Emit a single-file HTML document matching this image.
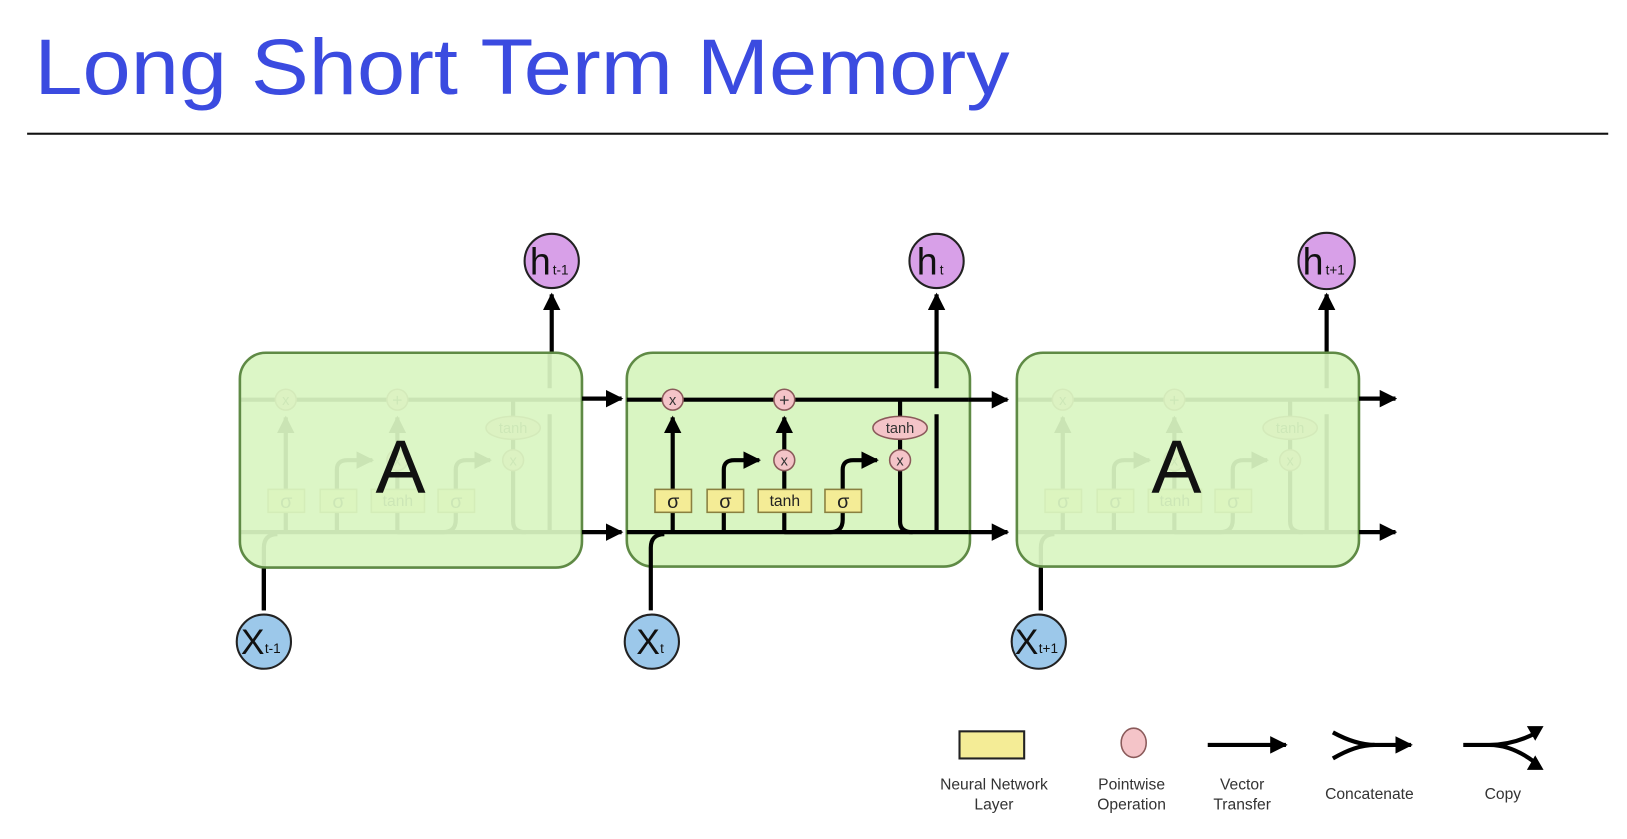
<!DOCTYPE html>
<html><head><meta charset="utf-8"><style>html,body{margin:0;padding:0;background:#fff;width:1627px;height:839px;overflow:hidden}</style></head>
<body>
<svg width="1627" height="839" viewBox="0 0 1560 804" xmlns="http://www.w3.org/2000/svg" font-family="Liberation Sans, DejaVu Sans, sans-serif">
<defs>
<marker id="ar" viewBox="0 0 10 10" refX="9" refY="5" markerWidth="4.2" markerHeight="4.2" orient="auto" markerUnits="strokeWidth"><path d="M0,0 L10,5 L0,10 z" fill="#000"/></marker>
<g id="inner">
 <path d="M0,383 H328" stroke="#000" stroke-width="4" fill="none"/>
 <path d="M0,510 H328" stroke="#000" stroke-width="4" fill="none"/>
 <path d="M23,585 V525 Q23,512 36,512" stroke="#000" stroke-width="4" fill="none"/>
 <path d="M44,510 V400" stroke="#000" stroke-width="4" fill="none" marker-end="url(#ar)"/>
 <path d="M93,510 V450 Q93,441 103,441 H127" stroke="#000" stroke-width="4" fill="none" marker-end="url(#ar)"/>
 <path d="M151,510 V400" stroke="#000" stroke-width="4" fill="none" marker-end="url(#ar)"/>
 <path d="M151,510 H195 Q207,510 207,498 V450 Q207,441 217,441 H240" stroke="#000" stroke-width="4" fill="none" marker-end="url(#ar)"/>
 <path d="M262,383 V500 Q262,510 274,510" stroke="#000" stroke-width="4" fill="none"/>
 <path d="M297,510 V397 M297,372 V338" stroke="#000" stroke-width="4" fill="none"/>
 <rect x="27" y="469" width="35" height="22" fill="#f4ec96" stroke="#8a8040" stroke-width="1.5"/>
 <rect x="77" y="469" width="35" height="22" fill="#f4ec96" stroke="#8a8040" stroke-width="1.5"/>
 <rect x="126" y="469" width="51" height="22" fill="#f4ec96" stroke="#8a8040" stroke-width="1.5"/>
 <rect x="190" y="469" width="35" height="22" fill="#f4ec96" stroke="#8a8040" stroke-width="1.5"/>
 <text x="44.5" y="487" font-size="19" text-anchor="middle" fill="#222">σ</text>
 <text x="94.5" y="487" font-size="19" text-anchor="middle" fill="#222">σ</text>
 <text x="151.5" y="485" font-size="15" text-anchor="middle" fill="#222">tanh</text>
 <text x="207.5" y="487" font-size="19" text-anchor="middle" fill="#222">σ</text>
 <g fill="#f4c4c8" stroke="#8a5a5a" stroke-width="1.5">
  <circle cx="44" cy="383" r="10"/><circle cx="151" cy="383" r="10"/>
  <circle cx="151" cy="441" r="10"/><circle cx="262" cy="441" r="10"/>
  <ellipse cx="262" cy="410" rx="26" ry="11"/>
 </g>
 <g font-size="14" text-anchor="middle" fill="#333">
  <text x="44" y="388">x</text><text x="151" y="389" font-size="17">+</text>
  <text x="151" y="446">x</text><text x="262" y="446">x</text>
  <text x="262" y="415" font-size="14">tanh</text>
 </g>
</g>
</defs>
<text x="33" y="90" font-size="76" fill="#3b4be0" textLength="935" lengthAdjust="spacingAndGlyphs">Long Short Term Memory</text>
<rect x="26" y="127" width="1516" height="2" fill="#111"/>

<!-- left cell -->
<path d="M529,338 V282" stroke="#000" stroke-width="4" marker-end="url(#ar)"/>
<g transform="translate(230,0)"><use href="#inner"/></g>
<rect x="230" y="338" width="328" height="206" rx="25" fill="#d9f5c2" fill-opacity="0.93" stroke="#5f8a45" stroke-width="2.5"/>
<text x="384" y="472" font-size="72" text-anchor="middle" fill="#111">A</text>
<path d="M558,382 H596" stroke="#000" stroke-width="4" marker-end="url(#ar)"/>
<path d="M558,510 H596" stroke="#000" stroke-width="4" marker-end="url(#ar)"/>
<path d="M253,585 V545" stroke="#000" stroke-width="4"/>

<!-- middle cell -->
<rect x="601" y="338" width="329" height="205" rx="25" fill="#d9f5c2" stroke="#5f8a45" stroke-width="2.5"/>
<g transform="translate(601,0)"><use href="#inner"/></g>
<path d="M898,340 V282" stroke="#000" stroke-width="4" marker-end="url(#ar)"/>
<path d="M929,383 H966" stroke="#000" stroke-width="4" marker-end="url(#ar)"/>
<path d="M929,510 H966" stroke="#000" stroke-width="4" marker-end="url(#ar)"/>

<!-- right cell -->
<path d="M1272,338 V282" stroke="#000" stroke-width="4" marker-end="url(#ar)"/>
<g transform="translate(975,0)"><use href="#inner"/></g>
<rect x="975" y="338" width="328" height="205" rx="25" fill="#d9f5c2" fill-opacity="0.93" stroke="#5f8a45" stroke-width="2.5"/>
<text x="1128" y="472" font-size="72" text-anchor="middle" fill="#111">A</text>
<path d="M1303,382 H1338" stroke="#000" stroke-width="4" marker-end="url(#ar)"/>
<path d="M1303,510 H1338" stroke="#000" stroke-width="4" marker-end="url(#ar)"/>
<path d="M998,585 V545" stroke="#000" stroke-width="4"/>

<!-- h and x nodes -->
<g stroke="#222" stroke-width="2">
 <circle cx="529" cy="250" r="26" fill="#d8a0e8"/><circle cx="898" cy="250" r="26" fill="#d8a0e8"/><circle cx="1272" cy="250" r="27" fill="#d8a0e8"/>
 <circle cx="253" cy="615" r="26" fill="#9cc8ea"/><circle cx="625" cy="615" r="26" fill="#9cc8ea"/><circle cx="996" cy="615" r="26" fill="#9cc8ea"/>
</g>
<g fill="#111">
 <text x="508" y="263" font-size="36">h</text><text x="530" y="263" font-size="13">t-1</text>
 <text x="879" y="263" font-size="36">h</text><text x="901" y="263" font-size="13">t</text>
 <text x="1249" y="263" font-size="36">h</text><text x="1271" y="263" font-size="13">t+1</text>
 <text x="231" y="627" font-size="34">X</text><text x="254" y="626" font-size="13">t-1</text>
 <text x="610" y="627" font-size="34">X</text><text x="633" y="626" font-size="13">t</text>
 <text x="973" y="627" font-size="34">X</text><text x="996" y="626" font-size="13">t+1</text>
</g>

<!-- legend -->
<rect x="920" y="701" width="62" height="26" fill="#f4ec96" stroke="#222" stroke-width="2"/>
<ellipse cx="1087" cy="712" rx="12" ry="14" fill="#f4c4c8" stroke="#8a5a5a" stroke-width="1.5"/>
<path d="M1158,714 H1233" stroke="#000" stroke-width="4" marker-end="url(#ar)"/>
<path d="M1278,702 Q1300,714 1318,714" stroke="#000" stroke-width="4" fill="none"/>
<path d="M1278,727 Q1300,714 1318,714" stroke="#000" stroke-width="4" fill="none"/>
<path d="M1316,714 H1353" stroke="#000" stroke-width="4" fill="none" marker-end="url(#ar)"/>
<path d="M1403,714 H1428 Q1450,714 1472,703 M1428,714 Q1450,714 1472,731" stroke="#000" stroke-width="4" fill="none"/>
<path d="M1464,696 L1480,696 L1472,710 z M1464,738 L1480,738 L1472,724 z" fill="#000"/>
<g font-size="15" fill="#333" text-anchor="middle">
 <text x="953" y="757">Neural Network</text><text x="953" y="776">Layer</text>
 <text x="1085" y="757">Pointwise</text><text x="1085" y="776">Operation</text>
 <text x="1191" y="757">Vector</text><text x="1191" y="776">Transfer</text>
 <text x="1313" y="766">Concatenate</text>
 <text x="1441" y="766">Copy</text>
</g>
</svg>
</body></html>
